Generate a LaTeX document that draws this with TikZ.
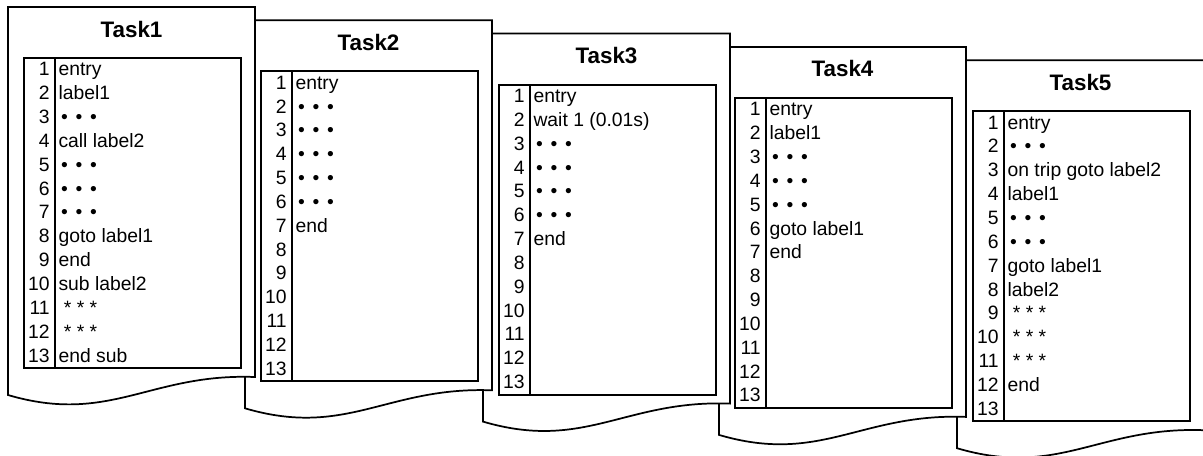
\documentclass[tikz,border=0pt]{standalone}
\usepackage{fontspec}
\setmainfont{Liberation Sans}
\usepackage{tikz}
\usetikzlibrary{positioning}

\newcommand{\tdots}{\hspace{2pt}•\hspace{5.8pt}•\hspace{5.8pt}•}
\newcommand{\tstars}{\ * * *}

\begin{document}
\begin{tikzpicture}[x=0.75pt, y=-0.75pt,
    pageline/.style={draw=black, line width=1.3pt, fill=white, line join=miter},
    boxline/.style={draw=black, line width=1.5pt},
    title/.style={font=\fontsize{16.8}{20}\selectfont\bfseries, anchor=base, inner sep=0pt},
    num/.style={font=\fontsize{14.5}{17}\selectfont, anchor=base east, inner sep=0pt},
    code/.style={font=\fontsize{14.5}{17}\selectfont, inner sep=0pt},
    page/.pic={
      \path[pageline] (0,388) -- (0,0) -- (247,0) -- (247,370)
        .. controls (142,366) and (102,418) .. (0,388) -- cycle;
      \draw[boxline] (16,51) rectangle (233,361);
      \draw[boxline] (47,51) -- (47,361);
      \node[title] (-title) at (123.5,30) {\tikzpictext};
      \foreach \n in {1,...,13}
        \node[num] (-n\n) at (42,45+23.85*\n) {\n};
    }
  ]
  \useasboundingbox (0,0) rectangle (1203,455);

  % back to front
  \pic[pic text=Task5] (p5) at (957,60.2) {page};
  \foreach \k/\txt in {1/entry, 2/\tdots, 3/on trip goto label2, 4/label1, 5/\tdots,
      6/\tdots, 7/goto label1, 8/label2, 9/\tstars, 10/\tstars, 11/\tstars, 12/end}
    \node[code, right=6.2pt of p5-n\k.base east, anchor=base west] (c5-\k) {\txt};

  \pic[pic text=Task4] (p4) at (719,46.9) {page};
  \foreach \k/\txt in {1/entry, 2/label1, 3/\tdots, 4/\tdots, 5/\tdots,
      6/goto label1, 7/end}
    \node[code, right=6.2pt of p4-n\k.base east, anchor=base west] (c4-\k) {\txt};

  \pic[pic text=Task3] (p3) at (483,33.6) {page};
  \foreach \k/\txt in {1/entry, 2/wait 1 (0.01s), 3/\tdots, 4/\tdots, 5/\tdots,
      6/\tdots, 7/end}
    \node[code, right=6.2pt of p3-n\k.base east, anchor=base west] (c3-\k) {\txt};

  \pic[pic text=Task2] (p2) at (245,20.3) {page};
  \foreach \k/\txt in {1/entry, 2/\tdots, 3/\tdots, 4/\tdots, 5/\tdots,
      6/\tdots, 7/end}
    \node[code, right=6.2pt of p2-n\k.base east, anchor=base west] (c2-\k) {\txt};

  \pic[pic text=Task1] (p1) at (8,7) {page};
  \foreach \k/\txt in {1/entry, 2/label1, 3/\tdots, 4/call label2, 5/\tdots,
      6/\tdots, 7/\tdots, 8/goto label1, 9/end, 10/sub label2, 11/\tstars,
      12/\tstars, 13/end sub}
    \node[code, right=6.2pt of p1-n\k.base east, anchor=base west] (c1-\k) {\txt};
\end{tikzpicture}
\end{document}
